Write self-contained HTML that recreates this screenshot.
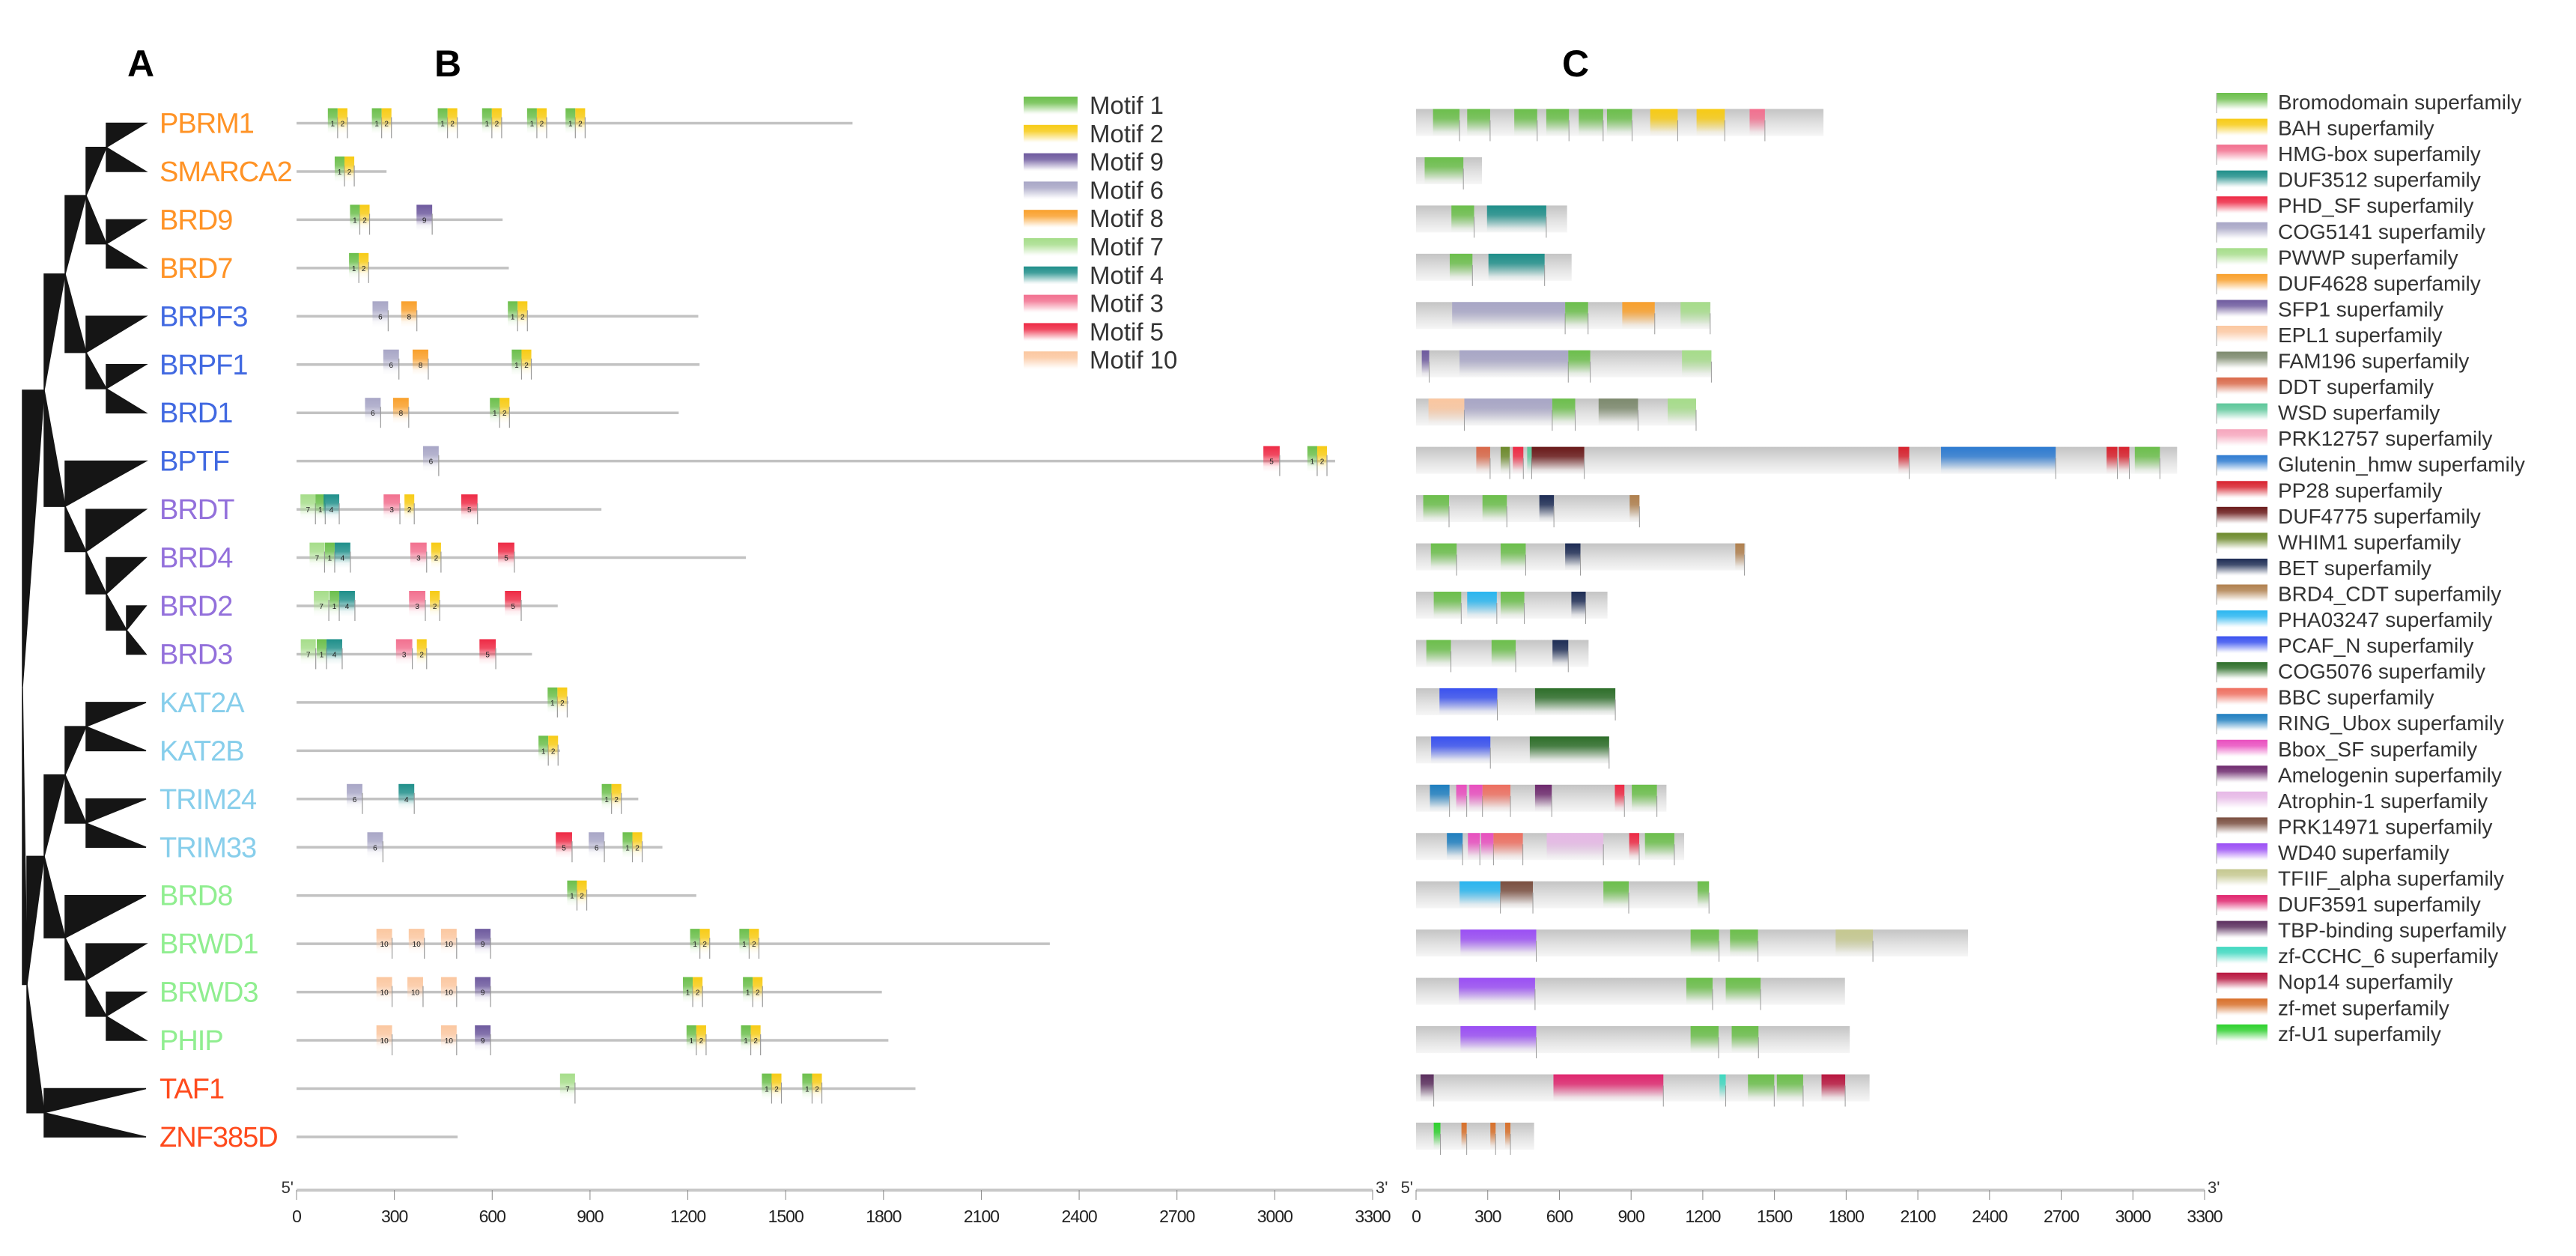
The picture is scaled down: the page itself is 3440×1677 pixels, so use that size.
<!DOCTYPE html>
<html><head><meta charset="utf-8"><title>Bromodomain gene family figure</title>
<style>
html,body{margin:0;padding:0;background:#fff;}
svg{display:block;font-family:"Liberation Sans",Arial,sans-serif;}
</style></head>
<body>
<svg id="fig" xmlns="http://www.w3.org/2000/svg" width="3440" height="1677" viewBox="0 0 3440 1677">
<defs id="defs"></defs>
<text x="170" y="102" font-size="50" font-weight="bold" fill="#000">A</text>
<text x="580" y="102" font-size="50" font-weight="bold" fill="#000">B</text>
<text x="2086" y="102" font-size="50" font-weight="bold" fill="#000">C</text>
<g id="tree"></g>
<g id="labels"></g>
<g id="panelB"></g>
<g id="panelC"></g>
<g id="legendB"></g>
<g id="legendC"></g>
<g id="axes"></g>
</svg>
<script>
// ---------- data ----------
const genes = ["PBRM1","SMARCA2","BRD9","BRD7","BRPF3","BRPF1","BRD1","BPTF","BRDT","BRD4","BRD2","BRD3","KAT2A","KAT2B","TRIM24","TRIM33","BRD8","BRWD1","BRWD3","PHIP","TAF1","ZNF385D"];
const geneGroup = [0,0,0,0,1,1,1,1,2,2,2,2,3,3,3,3,4,4,4,4,5,5];
const geneLengths = [1705,276,632,651,1232,1236,1172,3185,935,1378,801,722,834,808,1048,1122,1226,2310,1795,1815,1898,494];

const motifNames = ["Motif 1","Motif 2","Motif 9","Motif 6","Motif 8","Motif 7","Motif 4","Motif 3","Motif 5","Motif 10"];
const motifIds = [1,2,9,6,8,7,4,3,5,10];
const motifWidthAa = {1:30,2:30,9:48,6:48,8:48,7:46,4:48,3:50,5:50,10:48};

const motifGene  = [0,0,0,0,0,0,0,0,0,0,0,0, 1,1, 2,2,2, 3,3, 4,4,4,4, 5,5,5,5, 6,6,6,6, 7,7,7,7, 8,8,8,8,8,8, 9,9,9,9,9,9, 10,10,10,10,10,10, 11,11,11,11,11,11, 12,12, 13,13, 14,14,14,14, 15,15,15,15,15, 16,16, 17,17,17,17,17,17,17,17, 18,18,18,18,18,18,18,18, 19,19,19,19,19,19,19, 20,20,20,20,20];
const motifType  = [1,2,1,2,1,2,1,2,1,2,1,2, 1,2, 1,2,9, 1,2, 6,8,1,2, 6,8,1,2, 6,8,1,2, 6,5,1,2, 7,1,4,3,2,5, 7,1,4,3,2,5, 7,1,4,3,2,5, 7,1,4,3,2,5, 1,2, 1,2, 6,4,1,2, 6,5,6,1,2, 1,2, 10,10,10,9,1,2,1,2, 10,10,10,9,1,2,1,2, 10,10,9,1,2,1,2, 7,1,2,1,2];
const motifStart = [96,126,231,261,433,463,569,599,707,737,825,855, 117,147, 164,194,368, 161,191, 233,321,648,678, 266,356,660,690, 210,296,593,623, 388,2965,3100,3130, 12,58,83,267,331,505, 40,87,117,349,413,618, 53,101,131,345,409,639, 13,62,92,305,369,561, 770,800, 742,772, 154,313,936,966, 217,795,896,1000,1030, 830,860, 245,344,443,547,1207,1237,1358,1388, 245,340,443,547,1185,1215,1369,1399, 245,443,547,1196,1226,1363,1393, 808,1427,1457,1551,1581];

const domainNames = ["Bromodomain superfamily","BAH superfamily","HMG-box superfamily","DUF3512 superfamily","PHD_SF superfamily","COG5141 superfamily","PWWP superfamily","DUF4628 superfamily","SFP1 superfamily","EPL1 superfamily","FAM196 superfamily","DDT superfamily","WSD superfamily","PRK12757 superfamily","Glutenin_hmw superfamily","PP28 superfamily","DUF4775 superfamily","WHIM1 superfamily","BET superfamily","BRD4_CDT superfamily","PHA03247 superfamily","PCAF_N superfamily","COG5076 superfamily","BBC superfamily","RING_Ubox superfamily","Bbox_SF superfamily","Amelogenin superfamily","Atrophin-1 superfamily","PRK14971 superfamily","WD40 superfamily","TFIIF_alpha superfamily","DUF3591 superfamily","TBP-binding superfamily","zf-CCHC_6 superfamily","Nop14 superfamily","zf-met superfamily","zf-U1 superfamily"];
const domainColors = ["#6cbf4c","#f7cb15","#f2708f","#1f8f8a","#ee2a45","#a8a6c6","#a6dd8a","#f9a02c","#6e5a9e","#fbc7a0","#7d8a6e","#d9694a","#5cc79a","#f6a6bd","#2e7bd1","#d8222e","#6a1a1a","#6d8a2c","#1e2d55","#b0804e","#2ab6f0","#3a52f0","#2e6f2a","#ee6f60","#1f7fc0","#e94fbf","#6e2a6e","#e6b8e6","#7a4f40","#9b4ff5","#c5c890","#e0276f","#5b2f5e","#40d8c0","#b8163f","#d8702a","#2ed12e"];

const domGene  = [0,0,0,0,0,0,0,0,0, 1, 2,2, 3,3, 4,4,4,4, 5,5,5,5, 6,6,6,6,6, 7,7,7,7,7,7,7,7,7,7, 8,8,8,8, 9,9,9,9, 10,10,10,10, 11,11,11, 12,12, 13,13, 14,14,14,14,14,14,14, 15,15,15,15,15,15,15, 16,16,16,16, 17,17,17,17, 18,18,18, 19,19,19, 20,20,20,20,20,20, 21,21,21,21];
const domType  = [0,0,0,0,0,0,1,1,2, 0, 0,3, 0,3, 5,0,7,6, 8,5,0,6, 9,5,0,10,6, 11,17,4,12,16,15,14,15,15,0, 0,0,18,19, 0,0,18,19, 0,20,0,18, 0,0,18, 21,22, 21,22, 24,25,25,23,26,4,0, 24,25,25,23,27,4,0, 20,28,0,0, 29,0,0,30, 29,0,0, 29,0,0, 32,31,33,0,0,34, 36,35,35,35];
const domStart = [71,214,411,545,681,799,980,1174,1396, 36, 148,297, 141,303, 151,624,863,1107, 24,182,637,1113, 52,202,570,764,1053, 252,354,405,465,484,2019,2197,2890,2941,3008, 30,278,516,894, 62,354,624,1336, 74,214,354,650, 43,316,571, 98,498, 63,476, 58,168,223,278,498,832,903, 129,217,272,324,547,892,958, 182,353,784,1178, 186,1149,1314,1756, 179,1131,1296, 186,1149,1321, 19,575,1270,1389,1510,1697, 74,190,311,373];
const domEnd   = [182,310,507,640,783,904,1095,1292,1460, 198, 243,545, 236,538, 624,720,999,1231, 55,637,729,1236, 202,570,666,929,1172, 310,392,449,484,704,2064,2677,2935,2985,3113, 138,380,577,935, 170,459,688,1374, 189,338,453,710, 146,417,637, 340,834, 311,808, 140,212,278,395,568,872,1008, 195,267,324,447,784,934,1081, 353,489,890,1226, 503,1268,1431,1912, 498,1241,1442, 503,1266,1433, 74,1035,1296,1499,1620,1796, 102,212,333,395];

const tickValues = [0,300,600,900,1200,1500,1800,2100,2400,2700,3000,3300];

// ---------- layout ----------
const NS = "http://www.w3.org/2000/svg";
const groupColors = ["#ff9326","#4169e1","#9370db","#87ceeb","#90ee90","#ff4a1c"];
const motifColors = {1:"#6cbf4c",2:"#f7cb15",9:"#6e5a9e",6:"#a8a6c6",8:"#f9a02c",7:"#a6dd8a",4:"#1f8f8a",3:"#f2708f",5:"#ee2a45",10:"#fbc7a0"};
function rowY(i){ return 164.5 + 64.45*i; }
const B0 = 396, BK = (1833-396)/3300;
const C0 = 1891, CK = (2944-1891)/3300;
function bx(a){ return B0 + a*BK; }
function cx(a){ return C0 + a*CK; }
const AXIS_Y = 1589;

function mk(tag, attrs, parent){
  const e = document.createElementNS(NS, tag);
  for (const k in attrs) e.setAttribute(k, attrs[k]);
  parent.appendChild(e);
  return e;
}
const defs = document.getElementById("defs");
const gradCache = {};
function grad(color, fadeTo){
  const key = color + fadeTo;
  if (gradCache[key]) return gradCache[key];
  const id = "g" + Object.keys(gradCache).length;
  const g = mk("linearGradient", {id:id, x1:0, y1:0, x2:0, y2:1}, defs);
  mk("stop", {offset:"0", "stop-color":color, "stop-opacity":1}, g);
  mk("stop", {offset:"0.35", "stop-color":color, "stop-opacity":0.85}, g);
  mk("stop", {offset:String(fadeTo), "stop-color":color, "stop-opacity":0.08}, g);
  mk("stop", {offset:"1", "stop-color":color, "stop-opacity":0}, g);
  gradCache[key] = "url(#" + id + ")";
  return gradCache[key];
}
const barGrad = (function(){
  const g = mk("linearGradient", {id:"bar", x1:0, y1:0, x2:0, y2:1}, defs);
  mk("stop", {offset:"0", "stop-color":"#c4c4c4"}, g);
  mk("stop", {offset:"0.6", "stop-color":"#e4e4e4"}, g);
  mk("stop", {offset:"1", "stop-color":"#f6f6f6"}, g);
  return "url(#bar)";
})();

// ---------- tree ----------
const TIP = 195;
function node(x, a, b){
  const ya = typeof a === "number" ? rowY(a) : a.y;
  const yb = typeof b === "number" ? rowY(b) : b.y;
  return {x:x, y:(ya+yb)/2, kids:[a,b]};
}
const nPS = node(142,0,1), n97 = node(142,2,3), nA = node(115,nPS,n97);
const nF1 = node(142,5,6), nB = node(115,4,nF1), nC = node(87,nA,nB);
const n23 = node(169,10,11), n4 = node(142,9,n23), nT = node(115,8,n4), nD = node(87,7,nT);
const nE = node(59,nC,nD);
const nK = node(115,12,13), nTR = node(115,14,15), nF = node(87,nK,nTR);
const nW = node(142,18,19), nW1 = node(115,17,nW), nG = node(87,16,nW1), nH = node(59,nF,nG);
const nTZ = node(59,20,21), nI = node(36,nH,nTZ);
const root = node(30,nE,nI);
const treeG = document.getElementById("tree");
function drawTree(n){
  n.kids.forEach(function(k){
    const kx = typeof k === "number" ? TIP : k.x;
    const ky = typeof k === "number" ? rowY(k) : k.y;
    const p = mk("polygon", {points: n.x+","+n.y+" "+n.x+","+ky+" "+kx+","+ky, fill:"#151515", stroke:"#151515", "stroke-width":1.5}, treeG);
    
    
    if (typeof k !== "number") drawTree(k);
  });
}
drawTree(root);

// ---------- gene labels ----------
const labG = document.getElementById("labels");
genes.forEach(function(g,i){
  const t = mk("text", {x:213, y:rowY(i)+13, "font-size":38, fill:groupColors[geneGroup[i]], "letter-spacing":"-1"}, labG);
  t.textContent = g;
  
  
});

// ---------- panel B ----------
const pB = document.getElementById("panelB");
genes.forEach(function(g,i){
  const l = mk("line", {x1:bx(0), x2:bx(geneLengths[i]), y1:rowY(i), y2:rowY(i), stroke:"#c2c2c2", "stroke-width":3.5}, pB);
  
  
});
motifGene.forEach(function(gi,k){
  const t = motifType[k];
  const x = bx(motifStart[k]);
  const w = motifWidthAa[t]*BK;
  const y = rowY(gi);
  const r = mk("rect", {x:x, y:y-20, width:w, height:34, fill:grad(motifColors[t],0.8)}, pB);
  
  
  const e = mk("line", {x1:x+w, x2:x+w, y1:y-8, y2:y+20, stroke:"#999", "stroke-width":1.2}, pB);
  
  
  const n = mk("text", {x:x+w/2, y:y+4, "font-size":10, "text-anchor":"middle", fill:"#222"}, pB);
  n.textContent = String(t);
  
  
});

// ---------- panel C ----------
const pC = document.getElementById("panelC");
genes.forEach(function(g,i){
  const r = mk("rect", {x:cx(0), y:rowY(i)-19, width:geneLengths[i]*CK, height:36, fill:barGrad}, pC);
  
  
});
domGene.forEach(function(gi,k){
  const x = cx(domStart[k]);
  const w = Math.max(2,(domEnd[k]-domStart[k])*CK);
  const y = rowY(gi);
  const r = mk("rect", {x:x, y:y-19, width:w, height:36, fill:grad(domainColors[domType[k]],0.85)}, pC);
  
  
  const e = mk("line", {x1:x+w, x2:x+w, y1:y-4, y2:y+24, stroke:"#999", "stroke-width":1}, pC);
  
  
});

// ---------- legends ----------
const lB = document.getElementById("legendB");
motifNames.forEach(function(nm,i){
  const y = 140 + 37.8*i;
  const r = mk("rect", {x:1367, y:y-11, width:72, height:24, fill:grad(motifColors[motifIds[i]],0.9)}, lB);
  
  
  const t = mk("text", {x:1455, y:y+12, "font-size":33, fill:"#333"}, lB);
  t.textContent = nm;
  
  
});
const lC = document.getElementById("legendC");
domainNames.forEach(function(nm,i){
  const y = 136 + 34.55*i;
  const r = mk("rect", {x:2960, y:y-12, width:68, height:23, fill:grad(domainColors[i],0.9)}, lC);
  
  
  const ln = mk("line", {x1:2960, x2:2960, y1:y-12, y2:y+15, stroke:"#aaa", "stroke-width":1}, lC);
  
  
  const t = mk("text", {x:3042, y:y+10, "font-size":28, fill:"#333"}, lC);
  t.textContent = nm;
  
  
});

// ---------- axes ----------
const ax = document.getElementById("axes");
function drawAxis(x0, k, nameTag){
  const l = mk("line", {x1:x0, x2:x0+3300*k, y1:AXIS_Y, y2:AXIS_Y, stroke:"#c8c8c8", "stroke-width":4}, ax);
  
  
  tickValues.forEach(function(v){
    const x = x0 + v*k;
    const t = mk("line", {x1:x, x2:x, y1:AXIS_Y, y2:AXIS_Y+13, stroke:"#888", "stroke-width":1}, ax);
    
    
    const s = mk("text", {x:x, y:AXIS_Y+43, "font-size":23, "text-anchor":"middle", fill:"#222", "letter-spacing":"-1"}, ax);
    s.textContent = String(v);
    
    
  });
  const a = mk("text", {x:x0-4, y:AXIS_Y+4, "font-size":22, "text-anchor":"end", fill:"#333"}, ax);
  a.textContent = "5'";
  
  
  const b = mk("text", {x:x0+3300*k+4, y:AXIS_Y+4, "font-size":22, fill:"#333"}, ax);
  b.textContent = "3'";
  
  
}
drawAxis(B0, BK, "motif");
drawAxis(C0, CK, "domain");
</script>
</body></html>
